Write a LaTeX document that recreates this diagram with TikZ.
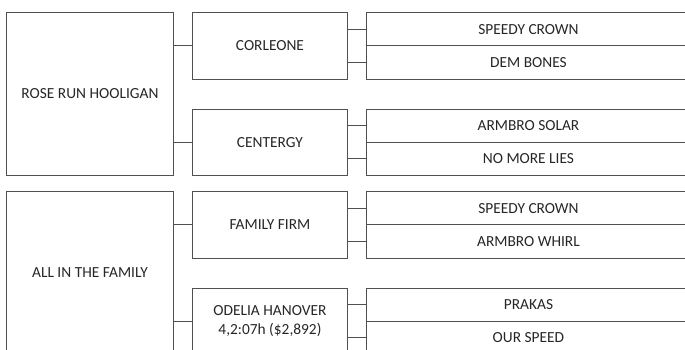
\documentclass[tikz,border=0pt]{standalone}
\usepackage{fontspec}
\setmainfont{Carlito}
\usetikzlibrary{positioning}
\definecolor{pedline}{HTML}{505050}
\definecolor{pedtext}{HTML}{262626}
\tikzset{
  horse/.style={draw=pedline, line width=0.9pt, text=pedtext, align=center, anchor=north west, inner sep=0pt, font=\fontsize{15.4}{18.5}\selectfont},
  damsire/.style={horse, minimum width=167pt, minimum height=163pt},
  sire/.style={horse, minimum width=155pt, minimum height=66.5pt},
  leaf/.style={horse, minimum width=324pt, minimum height=33.25pt},
  link/.style={draw=pedline, line width=0.9pt}
}
\begin{document}
\begin{tikzpicture}[x=1pt, y=-1pt]
\clip (0,0) rectangle (685,349);
% first family
\node[damsire] (rrh) at (6,12) {ROSE RUN HOOLIGAN};
\node[sire] (corl) at (192,12) {CORLEONE};
\node[sire] (cent) at (192,108.5) {CENTERGY};
\node[leaf] (sc1) at (366,12) {SPEEDY CROWN};
\node[leaf] (dem) at (366,45.25) {DEM BONES};
\node[leaf] (solar) at (366,108.5) {ARMBRO SOLAR};
\node[leaf] (lies) at (366,141.75) {NO MORE LIES};
% second family
\node[damsire] (aitf) at (6,191) {ALL IN THE FAMILY};
\node[sire] (firm) at (192,191) {FAMILY FIRM};
\node[sire] (odel) at (192,287.5) {ODELIA HANOVER\\4,2:07h (\$2,892)};
\node[leaf] (sc2) at (366,191) {SPEEDY CROWN};
\node[leaf] (whirl) at (366,224.25) {ARMBRO WHIRL};
\node[leaf] (prak) at (366,287.5) {PRAKAS};
\node[leaf] (ours) at (366,320.75) {OUR SPEED};
% connectors
\foreach \a/\b in {rrh/corl, rrh/cent, aitf/firm, aitf/odel,
  corl/sc1, corl/dem, cent/solar, cent/lies,
  firm/sc2, firm/whirl, odel/prak, odel/ours}
  \draw[link] (\a.east |- \b.west) -- (\b.west);
\end{tikzpicture}
\end{document}
